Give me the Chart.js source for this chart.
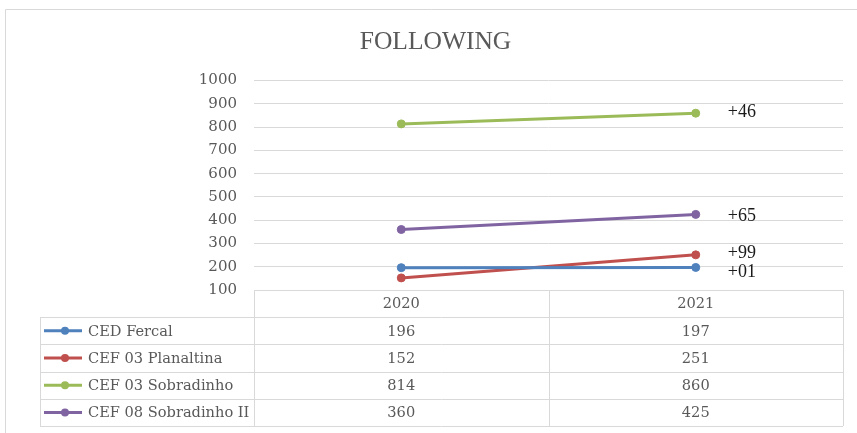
<!DOCTYPE html>
<html>
<head>
<meta charset="utf-8">
<script src="https://cdn.jsdelivr.net/npm/chart.js@4"></script>
<style>
  body { margin: 0; background: #fff; }
  #wrap { width: 857px; height: 433px; }
</style>
</head>
<body>
<div id="wrap"><canvas id="mygraph" width="857" height="433"></canvas></div>
<script>
const years = ["2020", "2021"];
const schools = ["CED Fercal", "CEF 03 Planaltina", "CEF 03 Sobradinho", "CEF 08 Sobradinho II"];
const cedFercal = [196, 197];
const cef03Planaltina = [152, 251];
const cef03Sobradinho = [814, 860];
const cef08Sobradinho = [360, 425];
const yTicks = [100, 200, 300, 400, 500, 600, 700, 800, 900, 1000];

const colors = ["#4F81BD", "#C0504D", "#9BBB59", "#8064A2"];
const labelNudge = [5, -2, -1, 2]; // small vertical shifts so the labels don't overlap
const grey = "#595959";
const gridCol = "#d9d9d9";
const serif = "'DejaVu Serif', serif";

const series = [cedFercal, cef03Planaltina, cef03Sobradinho, cef08Sobradinho];

// outer frame + nudge the title a little to the right like in Excel
const framePlugin = {
  id: "frame",
  afterLayout(chart) {
    if (chart.titleBlock) {
      chart.titleBlock.left += 14;
      chart.titleBlock.right += 14;
    }
  },
  beforeDraw(chart) {
    const ctx = chart.ctx;
    ctx.save();
    ctx.strokeStyle = gridCol;
    ctx.lineWidth = 1;
    ctx.beginPath();
    ctx.moveTo(5.5, 433);
    ctx.lineTo(5.5, 9.5);
    ctx.lineTo(857, 9.5);
    ctx.stroke();
    ctx.restore();
  }
};

// difference labels next to the 2021 points
const diffPlugin = {
  id: "diffs",
  afterDatasetsDraw(chart) {
    const ctx = chart.ctx;
    ctx.save();
    ctx.font = "18px 'Liberation Serif', serif";
    ctx.fillStyle = "#1a1a1a";
    ctx.textAlign = "left";
    ctx.textBaseline = "middle";
    chart.data.datasets.forEach((ds, i) => {
      const pt = chart.getDatasetMeta(i).data[1];
      const d = ds.data[1] - ds.data[0];
      const txt = (d >= 0 ? "+" : "-") + String(Math.abs(d)).padStart(2, "0");
      ctx.fillText(txt, pt.x + 32, pt.y + labelNudge[i]);
    });
    ctx.restore();
  }
};

// data table under the plot (Excel style)
const tablePlugin = {
  id: "datatable",
  afterDraw(chart) {
    const ctx = chart.ctx;
    const area = chart.chartArea;
    const xs = chart.scales.x;
    const rowH = 27.2;
    const tableLeft = 40;
    const top = area.bottom;
    const colEdges = [area.left, (area.left + area.right) / 2, area.right];
    const nRows = schools.length;
    const bottom = top + rowH * (nRows + 1);
    ctx.save();
    ctx.strokeStyle = gridCol;
    ctx.lineWidth = 1;
    ctx.beginPath();
    // header top
    ctx.moveTo(area.left, Math.round(top) + 0.5);
    ctx.lineTo(area.right, Math.round(top) + 0.5);
    for (let r = 1; r <= nRows + 1; r++) {
      const y = Math.round(top + rowH * r) + 0.5;
      ctx.moveTo(tableLeft, y);
      ctx.lineTo(area.right, y);
    }
    colEdges.forEach(x => {
      const xx = Math.round(x) + 0.5;
      ctx.moveTo(xx, top);
      ctx.lineTo(xx, bottom);
    });
    ctx.moveTo(tableLeft + 0.5, top + rowH);
    ctx.lineTo(tableLeft + 0.5, bottom);
    ctx.stroke();

    ctx.font = "14.6px " + serif;
    ctx.fillStyle = grey;
    ctx.textBaseline = "middle";
    ctx.textAlign = "center";
    years.forEach((yr, c) => {
      const cx = xs.getPixelForValue(c);
      ctx.fillText(yr, cx, top + rowH / 2 + 1);
    });
    series.forEach((vals, r) => {
      const cy = top + rowH * (r + 1.5) + 1;
      vals.forEach((v, c) => {
        ctx.textAlign = "center";
        ctx.fillText(String(v), xs.getPixelForValue(c), cy);
      });
      // legend key
      ctx.strokeStyle = colors[r];
      ctx.lineWidth = 3;
      ctx.beginPath();
      ctx.moveTo(tableLeft + 4, cy - 1);
      ctx.lineTo(tableLeft + 42, cy - 1);
      ctx.stroke();
      ctx.fillStyle = colors[r];
      ctx.beginPath();
      ctx.arc(tableLeft + 25, cy - 1, 4, 0, Math.PI * 2);
      ctx.fill();
      ctx.fillStyle = grey;
      ctx.textAlign = "left";
      ctx.fillText(schools[r], tableLeft + 48, cy);
    });
    ctx.restore();
  }
};

const data = {
  labels: years,
  datasets: schools.map((name, i) => ({
    label: name,
    data: series[i],
    borderColor: colors[i],
    backgroundColor: colors[i],
    pointBackgroundColor: colors[i],
    pointBorderColor: colors[i],
    borderWidth: 3,
    pointRadius: 4,
    pointBorderWidth: 1,
    tension: 0
  }))
};

const config = {
  type: "line",
  data,
  options: {
    responsive: false,
    animation: false,
    layout: { padding: { left: 0, right: 14, bottom: 143, top: 0 } },
    plugins: {
      legend: { display: false },
      tooltip: { enabled: false },
      title: {
        display: true,
        text: "FOLLOWING",
        color: grey,
        font: { family: "'Liberation Serif', serif", size: 25.5, weight: "normal", lineHeight: 1.2 },
        padding: { top: 27, bottom: 23 }
      }
    },
    scales: {
      x: {
        display: false,
        offset: true
      },
      y: {
        min: 100,
        max: 1000,
        afterFit(scale) { scale.width = 254; },
        afterBuildTicks(scale) { scale.ticks = yTicks.map(v => ({ value: v })); },
        border: { display: false },
        grid: { color: gridCol, lineWidth: 1, drawTicks: false },
        ticks: {
          color: grey,
          padding: 17,
          font: { family: serif, size: 15 },
          callback: v => String(v)
        }
      }
    }
  },
  plugins: [framePlugin, diffPlugin, tablePlugin]
};

const mygraph = new Chart(document.getElementById("mygraph"), config);
</script>
</body>
</html>
